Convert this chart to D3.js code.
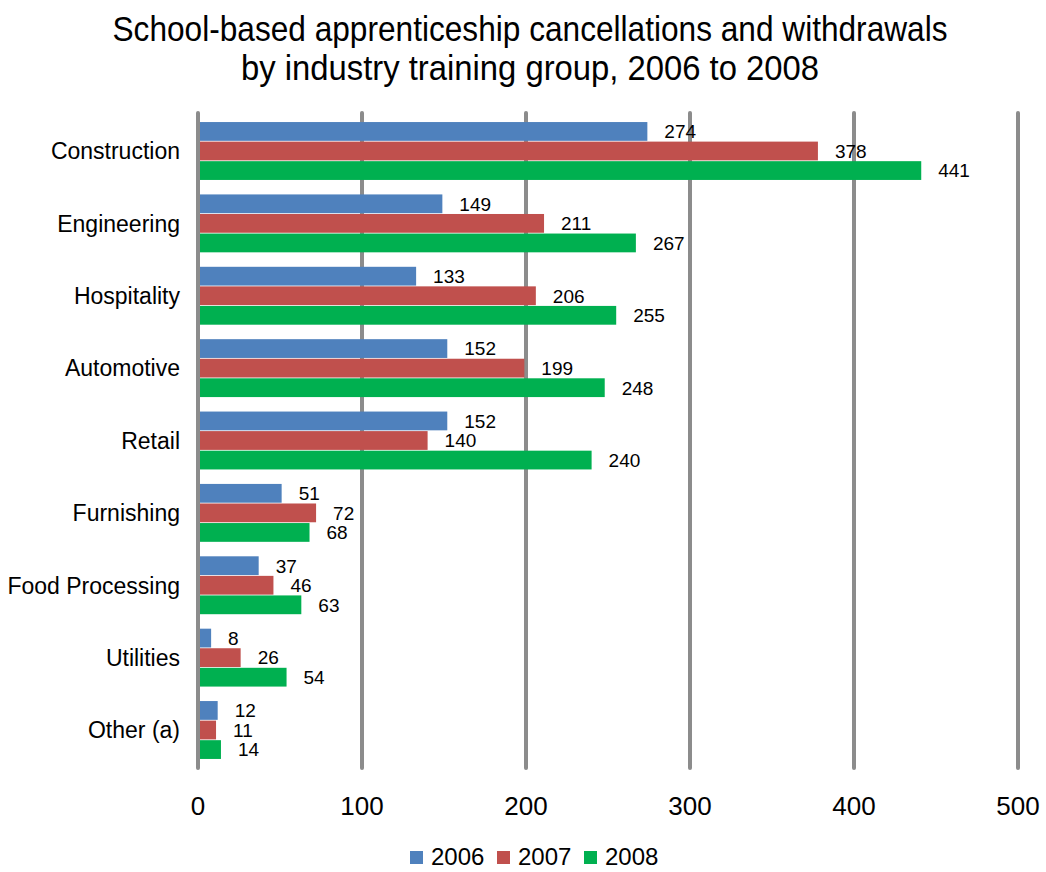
<!DOCTYPE html>
<html>
<head>
<meta charset="utf-8">
<script src="https://cdn.jsdelivr.net/npm/d3@7"></script>
<style>
  html, body { margin: 0; padding: 0; background: #fff; }
  svg { display: block; font-family: "Liberation Sans", "DejaVu Sans", sans-serif; }
</style>
</head>
<body>
<svg id="chart" width="1046" height="872"></svg>
<script>
// Training groups, top to bottom
const categories = ["Construction", "Engineering", "Hospitality", "Automotive", "Retail",
  "Furnishing", "Food Processing", "Utilities", "Other (a)"];
const years = ["2006", "2007", "2008"];
const values2006 = [274, 149, 133, 152, 152, 51, 37, 8, 12];
const values2007 = [378, 211, 206, 199, 140, 72, 46, 26, 11];
const values2008 = [441, 267, 255, 248, 240, 68, 63, 54, 14];
const xTicks = [0, 100, 200, 300, 400, 500];
const titleLines = ["School-based apprenticeship cancellations and withdrawals",
  "by industry training group, 2006 to 2008"];

const colors = ["#4F81BD", "#C0504D", "#00B050"];
const seriesValues = [values2006, values2007, values2008];

const svg = d3.select("#chart");

const x = d3.scaleLinear().domain([0, 500]).range([198, 1018]);
const y = d3.scaleBand().domain(categories).range([113, 768])
  .paddingInner(0.2).paddingOuter(0.125);
const ySub = d3.scaleBand().domain(years).range([0, y.bandwidth()]).paddingInner(0.04);

// Title
const titleWidths = [835, 578];
svg.append("g").selectAll("text").data(titleLines).join("text")
  .attr("x", 530)
  .attr("y", (d, i) => 41 + i * 39)
  .attr("text-anchor", "middle")
  .attr("font-size", 35)
  .attr("textLength", (d, i) => titleWidths[i])
  .attr("lengthAdjust", "spacingAndGlyphs")
  .attr("fill", "#000")
  .text(d => d);

// Vertical gridlines
svg.append("g").selectAll("line").data(xTicks).join("line")
  .attr("x1", d => x(d)).attr("x2", d => x(d))
  .attr("y1", 113).attr("y2", 768)
  .attr("stroke", "#8c8c8c")
  .attr("stroke-width", 4)
  .attr("stroke-linecap", "round");

// Bars
const groups = svg.append("g").selectAll("g").data(categories).join("g")
  .attr("transform", d => `translate(0,${y(d)})`);

groups.selectAll("rect")
  .data((c, i) => years.map((yr, s) => ({ yr, s, v: seriesValues[s][i] })))
  .join("rect")
  .attr("x", x(0) + 2)
  .attr("y", d => ySub(d.yr))
  .attr("width", d => Math.max(0, x(d.v) - x(0) - 2))
  .attr("height", ySub.bandwidth())
  .attr("fill", d => colors[d.s]);

// Value labels
groups.selectAll("text")
  .data((c, i) => years.map((yr, s) => ({ yr, s, v: seriesValues[s][i] })))
  .join("text")
  .attr("x", d => x(d.v) + 17)
  .attr("y", d => ySub(d.yr) + ySub.bandwidth() / 2)
  .attr("dy", "0.36em")
  .attr("font-size", 19)
  .attr("fill", "#000")
  .text(d => d.v);

// Category axis labels
svg.append("g").selectAll("text").data(categories).join("text")
  .attr("x", 180)
  .attr("y", d => y(d) + y.bandwidth() / 2)
  .attr("dy", "0.36em")
  .attr("text-anchor", "end")
  .attr("font-size", 23)
  .attr("fill", "#000")
  .text(d => d);

// Value axis tick labels
svg.append("g").selectAll("text").data(xTicks).join("text")
  .attr("x", d => x(d))
  .attr("y", 815)
  .attr("text-anchor", "middle")
  .attr("font-size", 26)
  .attr("fill", "#000")
  .text(d => d);

// Legend
const legendX = [410, 497, 584];
const legend = svg.append("g").selectAll("g").data(years).join("g")
  .attr("transform", (d, i) => `translate(${legendX[i]},851)`);
legend.append("rect")
  .attr("width", 13).attr("height", 13)
  .attr("fill", (d, i) => colors[i]);
legend.append("text")
  .attr("x", 21).attr("y", 14)
  .attr("font-size", 24)
  .attr("fill", "#000")
  .text(d => d);
</script>
</body>
</html>
